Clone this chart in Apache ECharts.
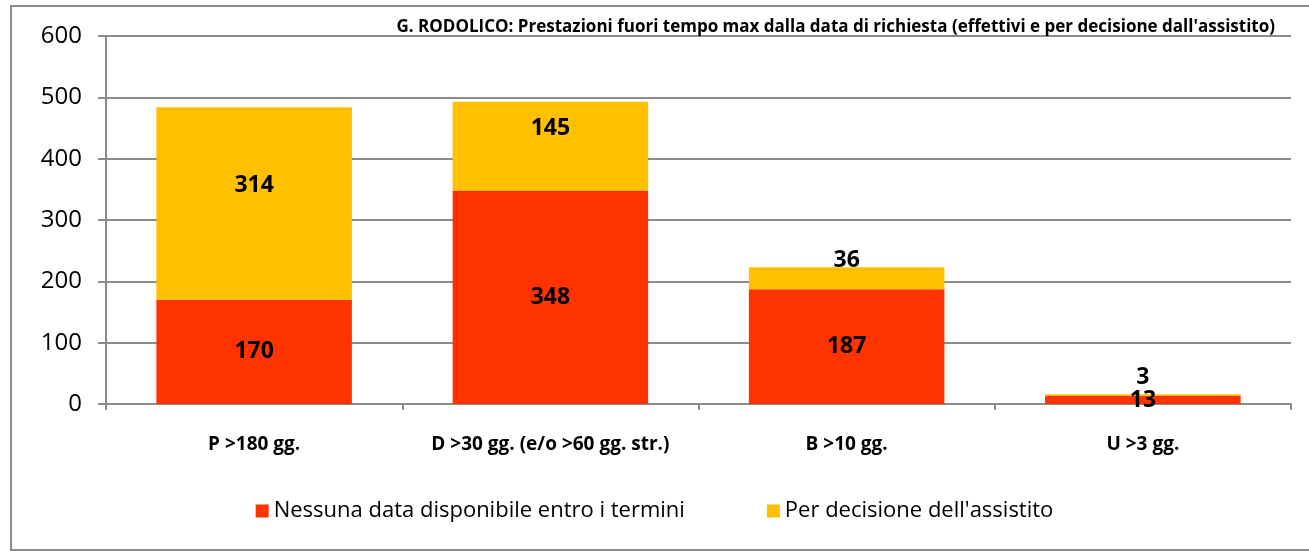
<!DOCTYPE html>
<html>
<head>
<meta charset="utf-8">
<script src="https://cdn.jsdelivr.net/npm/echarts@6/dist/echarts.min.js"></script>
<style>
  html, body { margin: 0; padding: 0; background: #fff; }
  #chart { width: 1309px; height: 551px; }
</style>
</head>
<body>
<div id="chart"></div>
<script>
// dati
var categories = ['P >180 gg.', 'D >30 gg. (e/o >60 gg. str.)', 'B >10 gg.', 'U >3 gg.'];
var nessunaData = [170, 348, 187, 13];
var perDecisione = [314, 145, 36, 3];
var yTicks = [0, 100, 200, 300, 400, 500, 600];

var font = 'Open Sans';

var chart = echarts.init(document.getElementById('chart'));

var labelStyle = { fontFamily: font, fontSize: 23, fontWeight: 'bold', color: '#000' };

var option = {
  backgroundColor: '#fff',
  animation: false,
  title: {
    text: "G. RODOLICO: Prestazioni fuori tempo max dalla data di richiesta (effettivi e per decisione dall'assistito)",
    right: 29,
    top: 14,
    textStyle: { fontFamily: font, fontSize: 17, fontWeight: 'bold', color: '#000' }
  },
  graphic: [{
    type: 'rect',
    shape: { x: 11, y: 6, width: 1320, height: 544 },
    style: { fill: 'none', stroke: '#8c8c8c', lineWidth: 2 },
    silent: true
  }],
  legend: {
    bottom: 24,
    left: 'center',
    itemWidth: 13,
    itemHeight: 13,
    itemGap: 82,
    icon: 'rect',
    textStyle: { fontFamily: font, fontSize: 22, color: '#000' },
    data: ['Nessuna data disponibile entro i termini', "Per decisione dell'assistito"]
  },
  grid: { left: 106, right: 18, top: 36, bottom: 147 },
  xAxis: {
    type: 'category',
    data: categories,
    axisLine: { lineStyle: { color: '#8c8c8c', width: 2 } },
    axisTick: { show: true, interval: 0, length: 6, lineStyle: { color: '#8c8c8c', width: 2 } },
    axisLabel: { interval: 0, fontFamily: font, fontSize: 19, fontWeight: 'bold', color: '#000', margin: 31 }
  },
  yAxis: {
    type: 'value',
    min: yTicks[0],
    max: yTicks[yTicks.length - 1],
    interval: 100,
    axisLine: { show: true, lineStyle: { color: '#8c8c8c', width: 2 } },
    axisTick: { show: true, length: 8, lineStyle: { color: '#8c8c8c', width: 2 } },
    splitLine: { lineStyle: { color: '#8c8c8c', width: 2 } },
    axisLabel: { fontFamily: font, fontSize: 24, color: '#000', margin: 24 }
  },
  series: [{
    name: 'Nessuna data disponibile entro i termini',
    type: 'bar',
    stack: 'tot',
    barWidth: '66%',
    itemStyle: { color: '#ff3300' },
    label: Object.assign({ show: true, position: 'inside' }, labelStyle),
    data: nessunaData
  }, {
    name: "Per decisione dell'assistito",
    type: 'bar',
    stack: 'tot',
    itemStyle: { color: '#ffc000' },
    // Excel mette queste etichette un po' più in alto del centro
    label: Object.assign({ show: true, position: 'inside', offset: [0, -18] }, labelStyle),
    data: perDecisione
  }]
};

chart.setOption(option);
</script>
</body>
</html>
